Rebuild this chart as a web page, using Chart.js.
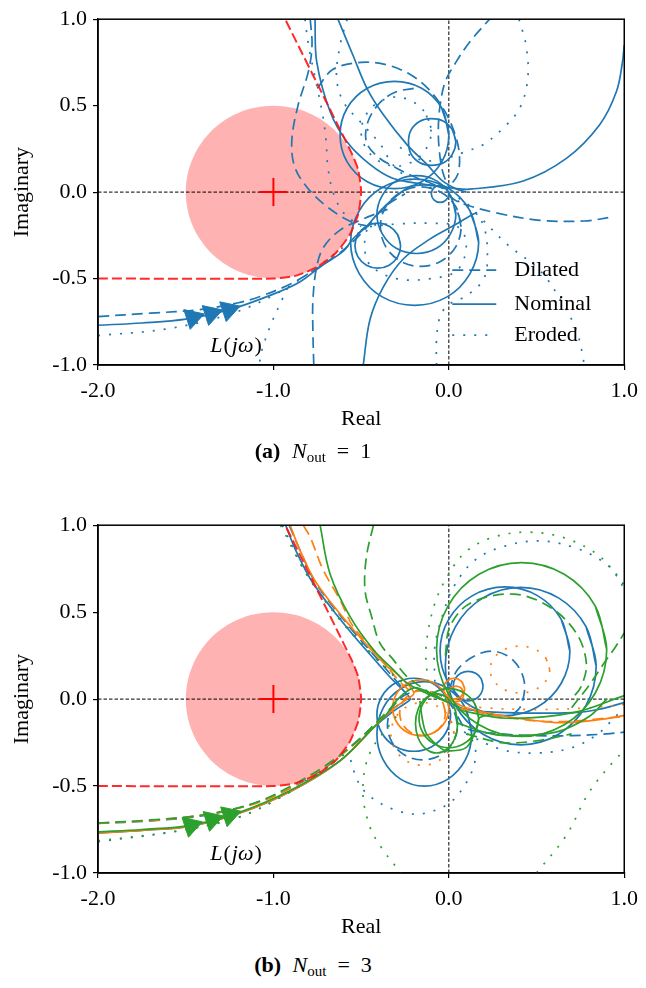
<!DOCTYPE html>
<html>
<head>
<meta charset="utf-8">
<script src="https://cdn.jsdelivr.net/npm/chart.js@4.4.1/dist/chart.umd.min.js"></script>
<style>
  body { margin: 0; background: #fff; width: 646px; height: 988px; position: relative; overflow: hidden; font-family: 'Liberation Serif', serif; }
  canvas { position: absolute; left: 0; }
  #chartA { top: 0; }
  #chartB { top: 506px; }
  .cap { position: absolute; left: 0; width: 626px; text-align: center; font-size: 22px; line-height: 22px; color: #000; }
  .cap b { margin-right: 6px; }
  .cap sub { font-size: 15px; vertical-align: -4px; line-height: 0; }
</style>
</head>
<body>
<canvas id="chartA" width="646" height="440"></canvas>
<div class="cap" style="top:440px"><b>(a)</b> <i>N</i><sub>out</sub> &nbsp;=&nbsp; 1</div>
<canvas id="chartB" width="646" height="442"></canvas>
<div class="cap" style="top:954px"><b>(b)</b> <i>N</i><sub>out</sub> &nbsp;=&nbsp; 3</div>
<script>
// axis ticks
const xTickValues = [-2, -1, 0, 1];
const xTickLabels = ['-2.0', '-1.0', '0.0', '1.0'];
const yTickValues = [-1, -0.5, 0, 0.5, 1];
const yTickLabels = ['-1.0', '-0.5', '0.0', '0.5', '1.0'];
const legendLabels = ['Dilated', 'Nominal', 'Eroded'];

// forbidden disk around -1 and its dashed boundary
const diskPts = [[-0.5,0],[-0.517,0.129],[-0.567,0.25],[-0.646,0.354],[-0.75,0.433],[-0.871,0.483],[-1,0.5],
  [-1.129,0.483],[-1.25,0.433],[-1.354,0.354],[-1.433,0.25],[-1.483,0.129],[-1.5,0],[-1.483,-0.129],[-1.433,-0.25],
  [-1.354,-0.354],[-1.25,-0.433],[-1.129,-0.483],[-1,-0.5],[-0.871,-0.483],[-0.75,-0.433],[-0.646,-0.354],
  [-0.567,-0.25],[-0.517,-0.129],[-0.5,0]];
const limitPts = [[-2,-0.5],[-1,-0.5],[-0.871,-0.483],[-0.75,-0.433],[-0.646,-0.354],[-0.567,-0.25],[-0.517,-0.129],
  [-0.5,0],[-0.517,0.129],[-0.557,0.231],[-0.933,1.0]];
const critPt = [[-1, 0]];
const realAxis = [[-2, 0], [1, 0]];
const imagAxis = [[0, -1], [0, 1]];

// (a) N_out = 1
const nominalA = [
  [[-2,-0.77],[-1.75,-0.757],[-1.5,-0.735],[-1.25,-0.68],[-1.0,-0.59],[-0.85,-0.52],[-0.73,-0.43],[-0.6,-0.34],[-0.546,-0.27],[-0.47,-0.2],[-0.41,-0.13],[-0.33,-0.05],[-0.22,0.03],[-0.1,0.04],[-0.02,0.02]],
  [[-0.763,1.0],[-0.753,0.753],[-0.677,0.466],[-0.582,0.293],[-0.45,0.16],[-0.32,0.08],[-0.148,0.046],[0.023,0.023],[0.12,0.017],[0.42,0.063],[0.67,0.195],[0.86,0.39],[0.955,0.58],[0.99,0.753],[1.0,0.85]],
  [[-0.632,1.0],[-0.546,0.79],[-0.467,0.6],[-0.375,0.45],[-0.24,0.276],[-0.125,0.16],[-0.034,0.063],[0.046,0.017],[0.1,0.0]],
  [[0.0,0.33],[-0.04,0.485],[-0.155,0.6],[-0.31,0.64],[-0.465,0.6],[-0.58,0.485],[-0.62,0.33],[-0.58,0.175],[-0.465,0.06],[-0.31,0.02],[-0.155,0.06],[-0.04,0.175],[0.0,0.33]],
  [[0.04,0.29],[0.02,0.36],[-0.03,0.41],[-0.1,0.425],[-0.165,0.41],[-0.215,0.36],[-0.23,0.29],[-0.215,0.22],[-0.165,0.17],[-0.1,0.155],[-0.03,0.17],[0.02,0.22],[0.04,0.29]],
  [[0.04,-0.13],[0.01,-0.02],[-0.07,0.065],[-0.185,0.095],[-0.3,0.065],[-0.38,-0.02],[-0.41,-0.13],[-0.38,-0.24],[-0.3,-0.325],[-0.185,-0.355],[-0.07,-0.325],[0.01,-0.24],[0.04,-0.13]],
  [[-0.275,-0.31],[-0.292,-0.245],[-0.34,-0.197],[-0.405,-0.18],[-0.47,-0.197],[-0.518,-0.245],[-0.535,-0.31],[-0.518,-0.375],[-0.47,-0.423],[-0.405,-0.44],[-0.34,-0.423],[-0.292,-0.375],[-0.275,-0.31]],
  [[0.17,-0.29],[0.12,-0.107],[-0.01,0.026],[-0.195,0.075],[-0.38,0.026],[-0.51,-0.107],[-0.56,-0.29],[-0.51,-0.473],[-0.38,-0.606],[-0.195,-0.655],[-0.01,-0.606],[0.12,-0.473],[0.17,-0.29]],
  [[0,-0.01],[-0.015,0.025],[-0.05,0.04],[-0.085,0.025],[-0.1,-0.01],[-0.085,-0.045],[-0.05,-0.06],[-0.015,-0.045],[0,-0.01]],
  [[-0.488,-1.0],[-0.45,-0.74],[-0.374,-0.55],[-0.26,-0.387],[-0.108,-0.272],[0.025,-0.195],[0.138,-0.128],[0.16,-0.12]]
];
const dilatedA = [
  [[-2,-0.72],[-1.7,-0.70],[-1.42,-0.68],[-1.2,-0.64],[-1.08,-0.605],[-0.9,-0.53],[-0.75,-0.44],[-0.62,-0.35],[-0.52,-0.26],[-0.44,-0.17],[-0.36,-0.08],[-0.25,-0.01]],
  [[-0.77,-1.0],[-0.775,-0.8],[-0.775,-0.63],[-0.755,-0.44],[-0.715,-0.32],[-0.62,-0.22],[-0.5,-0.16],[-0.35,-0.1]],
  [[-0.79,1.0],[-0.78,0.85],[-0.8,0.7],[-0.86,0.5],[-0.895,0.3],[-0.88,0.15],[-0.81,0.03],[-0.7,-0.08],[-0.56,-0.17],[-0.45,-0.2]],
  [[-0.75,0.6],[-0.66,0.71],[-0.5,0.75],[-0.35,0.735],[-0.22,0.68],[-0.12,0.6],[-0.03,0.48],[0.03,0.35],[0.06,0.22],[0.05,0.1],[0.0,0.03]],
  [[0.25,1.02],[0.12,0.87],[0.04,0.75],[-0.02,0.64],[-0.05,0.5],[-0.06,0.35],[-0.05,0.2],[-0.03,0.1],[0.0,0.03]],
  [[0.0,-0.02],[0.06,-0.06],[0.27,-0.12],[0.52,-0.163],[0.77,-0.167],[0.93,-0.145]],
  [[-0.2,0.6],[-0.3,0.58],[-0.39,0.52],[-0.46,0.41],[-0.47,0.29],[-0.4,0.2],[-0.3,0.14],[-0.2,0.09],[-0.1,0.05],[-0.03,0.02]],
  [[0.07,-0.2],[0.04,-0.085],[-0.045,-0.001],[-0.16,0.03],[-0.275,-0.001],[-0.36,-0.085],[-0.39,-0.2],[-0.36,-0.315],[-0.275,-0.4],[-0.16,-0.43],[-0.045,-0.4],[0.04,-0.315],[0.07,-0.2]]
];
const erodedA = [
  [[-2,-0.83],[-1.6,-0.79],[-1.23,-0.70],[-0.95,-0.57],[-0.8,-0.47],[-0.68,-0.38],[-0.58,-0.3],[-0.5,-0.22]],
  [[-0.92,-0.555],[-0.95,-0.62],[-1.02,-0.78],[-1.07,-0.93],[-1.08,-1.0]],
  [[-0.82,1.0],[-0.8,0.85],[-0.76,0.65],[-0.72,0.45],[-0.7,0.3],[-0.69,0.15],[-0.66,0.0],[-0.6,-0.12],[-0.5,-0.2]],
  [[-0.58,1.0],[-0.62,0.85],[-0.64,0.66],[-0.6,0.52],[-0.506,0.408],[-0.39,0.276],[-0.32,0.16],[-0.2,0.06],[-0.08,0.02]],
  [[0.4,1.0],[0.44,0.85],[0.45,0.657],[0.404,0.485],[0.31,0.37],[0.195,0.274],[0.1,0.236],[0.0,0.2],[-0.1,0.18],[-0.2,0.2],[-0.28,0.26]],
  [[0.05,-0.05],[0.14,-0.11],[0.33,-0.3],[0.52,-0.454],[0.65,-0.645],[0.727,-0.8],[0.765,-0.952],[0.77,-1.0]],
  [[-0.07,-1.0],[-0.07,-0.85],[-0.05,-0.72],[0.0,-0.65],[0.1,-0.6],[0.2,-0.5],[0.22,-0.35],[0.2,-0.2],[0.14,-0.1],[0.05,-0.03]],
  [[-0.45,-0.2],[-0.3,-0.185],[-0.1,-0.18],[0.05,-0.2],[0.1,-0.3],[0.05,-0.45],[-0.1,-0.5],[-0.3,-0.5],[-0.45,-0.42],[-0.48,-0.3],[-0.45,-0.2]],
  [[-0.1,0.35],[-0.13,0.45],[-0.2,0.52],[-0.3,0.55],[-0.4,0.52],[-0.47,0.45],[-0.5,0.35],[-0.47,0.25],[-0.4,0.18],[-0.3,0.15],[-0.2,0.18],[-0.13,0.25],[-0.1,0.35]]
];
const arrowsA = [[-1.46,-0.726],[-1.355,-0.703],[-1.255,-0.681]];

// (b) N_out = 3, output 1 (blue)
const nominalB1 = [
  [[-2,-0.77],[-1.75,-0.755],[-1.47,-0.73],[-1.19,-0.655],[-0.9,-0.53],[-0.62,-0.355],[-0.43,-0.165],[-0.33,-0.08],[-0.25,-0.025],[-0.22,0.0],[-0.25,0.04],[-0.32,0.11],[-0.4,0.2],[-0.58,0.41],[-0.77,0.66],[-0.87,0.85],[-0.93,1.0]],
  [[0.01,-0.09],[-0.018,0.015],[-0.095,0.092],[-0.2,0.12],[-0.305,0.092],[-0.382,0.015],[-0.41,-0.09],[-0.382,-0.195],[-0.305,-0.272],[-0.2,-0.3],[-0.095,-0.272],[-0.018,-0.195],[0.01,-0.09]],
  [[0.13,-0.2],[0.094,-0.05],[-0.005,0.06],[-0.14,0.1],[-0.275,0.06],[-0.374,-0.05],[-0.41,-0.2],[-0.374,-0.35],[-0.275,-0.46],[-0.14,-0.5],[-0.005,-0.46],[0.094,-0.35],[0.13,-0.2]],
  [[0.195,0.075],[0.184,0.118],[0.153,0.149],[0.11,0.16],[0.068,0.149],[0.036,0.118],[0.025,0.075],[0.036,0.033],[0.068,0.001],[0.11,-0.01],[0.153,0.001],[0.184,0.033],[0.195,0.075]],
  [[0.69,0.275],[0.64,0.46],[0.505,0.595],[0.32,0.645],[0.135,0.595],[0.0,0.46],[-0.05,0.275],[0.0,0.09],[0.135,-0.045],[0.32,-0.095],[0.505,-0.045],[0.64,0.09],[0.69,0.275]],
  [[0.84,0.19],[0.782,0.417],[0.625,0.582],[0.41,0.643],[0.195,0.582],[0.038,0.417],[-0.02,0.19],[0.038,-0.037],[0.195,-0.202],[0.41,-0.263],[0.625,-0.202],[0.782,-0.037],[0.84,0.19]],
  [[0.0,-0.02],[0.1,-0.06],[0.33,-0.078],[0.71,-0.078],[0.85,-0.06],[1.0,-0.02]]
];
const dilatedB1 = [
  [[-2,-0.715],[-1.7,-0.7],[-1.4,-0.67],[-1.114,-0.6],[-0.9,-0.51],[-0.7,-0.39],[-0.5,-0.22],[-0.35,-0.08],[-0.24,0.0]],
  [[-0.91,1.0],[-0.85,0.86],[-0.76,0.67],[-0.57,0.42],[-0.39,0.21],[-0.27,0.07]],
  [[0.05,-0.15],[0.023,-0.05],[-0.05,0.023],[-0.15,0.05],[-0.25,0.023],[-0.323,-0.05],[-0.35,-0.15],[-0.323,-0.25],[-0.25,-0.323],[-0.15,-0.35],[-0.05,-0.323],[0.023,-0.25],[0.05,-0.15]],
  [[0.0,0.05],[0.05,0.17],[0.15,0.25],[0.26,0.275],[0.37,0.22],[0.43,0.1],[0.41,-0.04],[0.35,-0.1]],
  [[0.05,-0.1],[0.1,-0.17],[0.3,-0.2],[0.5,-0.21],[0.7,-0.21],[0.9,-0.2],[1.0,-0.19]]
];
const erodedB1 = [
  [[-2,-0.82],[-1.55,-0.76],[-1.2,-0.68],[-0.95,-0.56],[-0.75,-0.43],[-0.6,-0.32]],
  [[-0.95,1.0],[-0.8,0.7],[-0.6,0.44],[-0.42,0.24],[-0.28,0.1]],
  [[-0.56,-0.35],[-0.52,-0.47],[-0.45,-0.56],[-0.3,-0.64],[-0.16,-0.66],[0.0,-0.6],[0.1,-0.48],[0.15,-0.35],[0.14,-0.25],[0.05,-0.15]],
  [[-0.08,0.1],[-0.08,0.3],[-0.03,0.5],[0.03,0.65],[0.15,0.8],[0.32,0.88],[0.52,0.91],[0.72,0.87],[0.88,0.79],[0.97,0.7],[1.0,0.65]],
  [[0.1,-0.2],[0.3,-0.29],[0.5,-0.31],[0.7,-0.28],[0.85,-0.2],[0.95,-0.1],[1.0,-0.05]]
];

// output 2 (orange)
const nominalB2 = [
  [[-2,-0.77],[-1.75,-0.755],[-1.47,-0.73],[-1.19,-0.655],[-0.9,-0.53],[-0.62,-0.355],[-0.43,-0.165],[-0.32,-0.06],[-0.24,0.0],[-0.2,0.03],[-0.22,0.07],[-0.3,0.15],[-0.355,0.19],[-0.545,0.4],[-0.753,0.665],[-0.85,0.86],[-0.905,1.0]],
  [[0.0,-0.05],[-0.021,0.03],[-0.08,0.089],[-0.16,0.11],[-0.24,0.089],[-0.299,0.03],[-0.32,-0.05],[-0.299,-0.13],[-0.24,-0.189],[-0.16,-0.21],[-0.08,-0.189],[-0.021,-0.13],[0.0,-0.05]],
  [[0.085,0.03],[0.072,0.062],[0.04,0.075],[0.008,0.062],[-0.005,0.03],[0.008,-0.002],[0.04,-0.015],[0.072,-0.002],[0.085,0.03]],
  [[0.09,0.06],[0.072,0.102],[0.03,0.12],[-0.012,0.102],[-0.03,0.06],[-0.012,0.018],[0.03,0.0],[0.072,0.018],[0.09,0.06]],
  [[0.0,0.0],[0.1,-0.05],[0.33,-0.1],[0.61,-0.135],[0.8,-0.125],[1.0,-0.095]]
];
const dilatedB2 = [
  [[-0.83,1.0],[-0.79,0.93],[-0.715,0.74],[-0.62,0.57],[-0.545,0.417],[-0.4,0.25],[-0.28,0.1],[-0.2,0.03]],
  [[-2,-0.715],[-1.5,-0.68],[-1.1,-0.6],[-0.8,-0.45],[-0.55,-0.27],[-0.35,-0.08]],
  [[-0.02,-0.08],[-0.037,-0.015],[-0.085,0.033],[-0.15,0.05],[-0.215,0.033],[-0.263,-0.015],[-0.28,-0.08],[-0.263,-0.145],[-0.215,-0.193],[-0.15,-0.21],[-0.085,-0.193],[-0.037,-0.145],[-0.02,-0.08]],
  [[0.05,-0.05],[0.3,-0.1],[0.6,-0.13],[1.0,-0.1]]
];
const erodedB2 = [
  [[0.575,0.17],[0.552,0.237],[0.49,0.287],[0.405,0.305],[0.32,0.287],[0.258,0.237],[0.235,0.17],[0.258,0.103],[0.32,0.053],[0.405,0.035],[0.49,0.053],[0.552,0.103],[0.575,0.17]],
  [[0.03,-0.2],[0.006,-0.11],[-0.06,-0.044],[-0.15,-0.02],[-0.24,-0.044],[-0.306,-0.11],[-0.33,-0.2],[-0.306,-0.29],[-0.24,-0.356],[-0.15,-0.38],[-0.06,-0.356],[0.006,-0.29],[0.03,-0.2]],
  [[0.05,-0.03],[0.2,-0.05],[0.5,-0.06],[0.8,-0.05],[1.0,-0.03]]
];

// output 3 (green)
const nominalB3 = [
  [[-2,-0.764],[-1.75,-0.75],[-1.474,-0.726],[-1.19,-0.65],[-0.905,-0.526],[-0.62,-0.354],[-0.43,-0.164],[-0.355,-0.087],[-0.3,-0.01],[-0.2,0.065],[-0.1,0.03],[0.0,-0.02]],
  [[-0.734,1.0],[-0.677,0.72],[-0.563,0.474],[-0.43,0.284],[-0.317,0.17],[-0.24,0.093],[-0.12,0.03],[0.0,-0.02]],
  [[0.9,0.285],[0.835,0.535],[0.658,0.718],[0.415,0.785],[0.172,0.718],[-0.005,0.535],[-0.07,0.285],[-0.005,0.035],[0.172,-0.148],[0.415,-0.215],[0.658,-0.148],[0.835,0.035],[0.9,0.285]],
  [[0.05,-0.14],[0.034,-0.055],[-0.01,0.007],[-0.07,0.03],[-0.13,0.007],[-0.174,-0.055],[-0.19,-0.14],[-0.174,-0.225],[-0.13,-0.287],[-0.07,-0.31],[-0.01,-0.287],[0.034,-0.225],[0.05,-0.14]],
  [[0.17,-0.11],[0.147,-0.025],[0.085,0.037],[0.0,0.06],[-0.085,0.037],[-0.147,-0.025],[-0.17,-0.11],[-0.147,-0.195],[-0.085,-0.257],[0.0,-0.28],[0.085,-0.257],[0.147,-0.195],[0.17,-0.11]],
  [[-0.165,-0.01],[-0.15,-0.12],[-0.127,-0.2],[-0.06,-0.27],[-0.013,-0.297],[0.1,-0.278],[0.158,-0.164],[0.176,-0.107],[0.25,-0.087]],
  [[0.044,-0.06],[0.33,-0.11],[0.71,-0.078],[1.0,0.02]],
  [[0.044,-0.135],[0.2,-0.19],[0.33,-0.21],[0.61,-0.19],[0.8,-0.1],[0.9,0.0]]
];
const dilatedB3 = [
  [[-2,-0.713],[-1.7,-0.695],[-1.4,-0.665],[-1.114,-0.6],[-0.9,-0.5],[-0.7,-0.38],[-0.52,-0.24],[-0.38,-0.1],[-0.28,0.0]],
  [[-0.43,1.0],[-0.47,0.817],[-0.478,0.627],[-0.44,0.474],[-0.393,0.322],[-0.317,0.227],[-0.24,0.131],[-0.1,0.03]],
  [[-0.02,0.25],[0.006,0.417],[0.12,0.55],[0.366,0.604],[0.575,0.53],[0.727,0.379],[0.784,0.207],[0.755,0.074],[0.7,0.0]],
  [[0.7,-0.05],[0.8,0.08],[0.88,0.2],[0.95,0.3],[1.0,0.38]],
  [[0.1,-0.2],[0.3,-0.25],[0.5,-0.24],[0.7,-0.2]]
];
const erodedB3 = [
  [[-2,-0.815],[-1.55,-0.758],[-1.2,-0.68],[-0.95,-0.56],[-0.75,-0.43],[-0.6,-0.32]],
  [[-0.96,1.0],[-0.8,0.7],[-0.6,0.43],[-0.4,0.22],[-0.25,0.08]],
  [[-0.12,0.1],[-0.13,0.3],[-0.08,0.55],[0.0,0.72],[0.1,0.85],[0.25,0.93],[0.44,0.96],[0.65,0.93],[0.85,0.83],[0.97,0.69],[1.0,0.62]],
  [[-0.3,-0.1],[-0.45,-0.31],[-0.49,-0.526],[-0.45,-0.735],[-0.374,-0.869],[-0.28,-0.99],[-0.27,-1.0]],
  [[0.5,-1.0],[0.67,-0.783],[0.8,-0.535],[0.95,-0.345],[1.0,-0.3]]
];
const arrowsB = [[-1.47,-0.727],[-1.35,-0.693],[-1.25,-0.666]];

const BLUE = '#1f77b4', ORANGE = '#ff7f0e', GREEN = '#2ca02c';
const DASH = [11, 6], DOT = [2, 9];

Chart.defaults.font.family = "'Liberation Serif', serif";
Chart.defaults.color = '#000';

// closed loops get their second point repeated so the join is smooth
const lineSet = (pts, color, dash, order) => {
  const last = pts[pts.length - 1];
  const closed = pts.length > 3 && last[0] === pts[0][0] && last[1] === pts[0][1];
  return {
    data: closed ? pts.concat([pts[1]]) : pts,
    showLine: true, borderColor: color, borderWidth: 1.7, borderDash: dash,
    pointRadius: 0, tension: 0.35, fill: false, order: order
  };
};

const baseSets = (arrowColor, arrows) => [
  { data: diskPts, showLine: true, fill: 'shape', backgroundColor: 'rgba(255,0,0,0.3)',
    borderWidth: 0, borderColor: 'rgba(0,0,0,0)', pointRadius: 0, tension: 0.3, order: 100 },
  { data: realAxis, showLine: true, borderColor: '#000', borderWidth: 1, borderDash: [3.5, 2], pointRadius: 0, order: 90 },
  { data: imagAxis, showLine: true, borderColor: '#000', borderWidth: 1, borderDash: [3.5, 2], pointRadius: 0, order: 90 },
  { data: limitPts, showLine: true, borderColor: 'rgba(255,20,20,0.9)', borderWidth: 2, borderDash: [10, 4],
    pointRadius: 0, tension: 0.2, order: 5 },
  { data: critPt, showLine: false, pointStyle: 'cross', pointRadius: 14, borderColor: '#ff0000',
    borderWidth: 2, order: 2 },
  { data: arrows, showLine: false, pointStyle: 'triangle', pointRadius: 12, pointRotation: 72,
    backgroundColor: arrowColor, borderColor: arrowColor, borderWidth: 1, order: 1 }
];

function drawLabel(ctx, x, y) {
  const parts = [['L', 'italic'], ['(', 'normal'], ['jω', 'italic'], [')', 'normal']];
  ctx.textBaseline = 'middle';
  ctx.textAlign = 'left';
  let total = 0;
  parts.forEach(p => { ctx.font = p[1] + ' 22px "Liberation Serif"'; total += ctx.measureText(p[0]).width + 1; });
  let cx = x - total / 2;
  parts.forEach(p => {
    ctx.font = p[1] + ' 22px "Liberation Serif"';
    ctx.fillText(p[0], cx, y);
    cx += ctx.measureText(p[0]).width + 1;
  });
}

const decor = (withLegend) => ({
  id: 'decor',
  afterDatasetsDraw(chart) {
    const { ctx, chartArea: a, scales: { x, y } } = chart;
    ctx.save();
    ctx.setLineDash([]);
    ctx.strokeStyle = '#000';
    ctx.lineWidth = 1.5;
    ctx.strokeRect(a.left, a.top, a.right - a.left, a.bottom - a.top);
    ctx.fillStyle = '#000';
    drawLabel(ctx, x.getPixelForValue(-1.21), y.getPixelForValue(-0.89));
    if (withLegend) {
      const dashes = [DASH, [], DOT];
      const rows = [251, 285, 316];
      legendLabels.forEach((lab, i) => {
        const ly = a.top + rows[i];
        ctx.strokeStyle = BLUE;
        ctx.lineWidth = 1.7;
        ctx.setLineDash(dashes[i]);
        ctx.beginPath();
        ctx.moveTo(a.right - 172, ly);
        ctx.lineTo(a.right - 128, ly);
        ctx.stroke();
        ctx.setLineDash([]);
        ctx.font = '22px "Liberation Serif"';
        ctx.textAlign = 'left';
        ctx.textBaseline = 'middle';
        ctx.fillStyle = '#000';
        ctx.fillText(lab, a.right - 110, ly);
      });
    }
    ctx.restore();
  }
});

function buildChart(id, datasets, withLegend) {
  new Chart(document.getElementById(id), {
    type: 'scatter',
    data: { datasets: datasets },
    options: {
      responsive: false,
      animation: false,
      events: [],
      layout: { padding: { top: 17, right: 21, bottom: 0, left: 0 } },
      elements: { line: { capBezierPoints: false } },
      plugins: { legend: { display: false }, tooltip: { enabled: false } },
      scales: {
        x: {
          type: 'linear', min: -2, max: 1,
          afterBuildTicks: s => { s.ticks = xTickValues.map(v => ({ value: v })); },
          afterFit: s => { s.height = 75; },
          ticks: { callback: (v, i) => xTickLabels[i], font: { size: 22 }, color: '#000', padding: 8, maxRotation: 0, autoSkip: false },
          grid: { display: true, drawOnChartArea: false, drawTicks: true, tickLength: 5, color: '#000', lineWidth: 1.2 },
          border: { display: true, color: '#000', width: 1.5 },
          title: { display: true, text: 'Real', font: { size: 22 }, color: '#000', padding: { top: 0, bottom: 8 } }
        },
        y: {
          type: 'linear', min: -1, max: 1,
          afterBuildTicks: s => { s.ticks = yTickValues.map(v => ({ value: v })); },
          afterFit: s => { s.width = 98; },
          ticks: { callback: (v, i) => yTickLabels[i], font: { size: 22 }, color: '#000', padding: 6, autoSkip: false },
          grid: { display: true, drawOnChartArea: false, drawTicks: true, tickLength: 5, color: '#000', lineWidth: 1.2 },
          border: { display: true, color: '#000', width: 1.5 },
          title: { display: true, text: 'Imaginary', font: { size: 22 }, color: '#000', padding: { top: 9, bottom: 0 } }
        }
      }
    },
    plugins: [decor(withLegend)]
  });
}

window.addEventListener('load', () => {
  const setsA = [
    ...baseSets(BLUE, arrowsA),
    ...nominalA.map(p => lineSet(p, BLUE, [], 20)),
    ...dilatedA.map(p => lineSet(p, BLUE, DASH, 21)),
    ...erodedA.map(p => lineSet(p, BLUE, DOT, 22))
  ];
  buildChart('chartA', setsA, true);

  const setsB = [
    ...baseSets(GREEN, arrowsB),
    ...nominalB1.map(p => lineSet(p, BLUE, [], 40)),
    ...dilatedB1.map(p => lineSet(p, BLUE, DASH, 41)),
    ...erodedB1.map(p => lineSet(p, BLUE, DOT, 42)),
    ...nominalB2.map(p => lineSet(p, ORANGE, [], 30)),
    ...dilatedB2.map(p => lineSet(p, ORANGE, DASH, 31)),
    ...erodedB2.map(p => lineSet(p, ORANGE, DOT, 32)),
    ...nominalB3.map(p => lineSet(p, GREEN, [], 20)),
    ...dilatedB3.map(p => lineSet(p, GREEN, DASH, 21)),
    ...erodedB3.map(p => lineSet(p, GREEN, DOT, 22))
  ];
  buildChart('chartB', setsB, false);
});
</script>
</body>
</html>
